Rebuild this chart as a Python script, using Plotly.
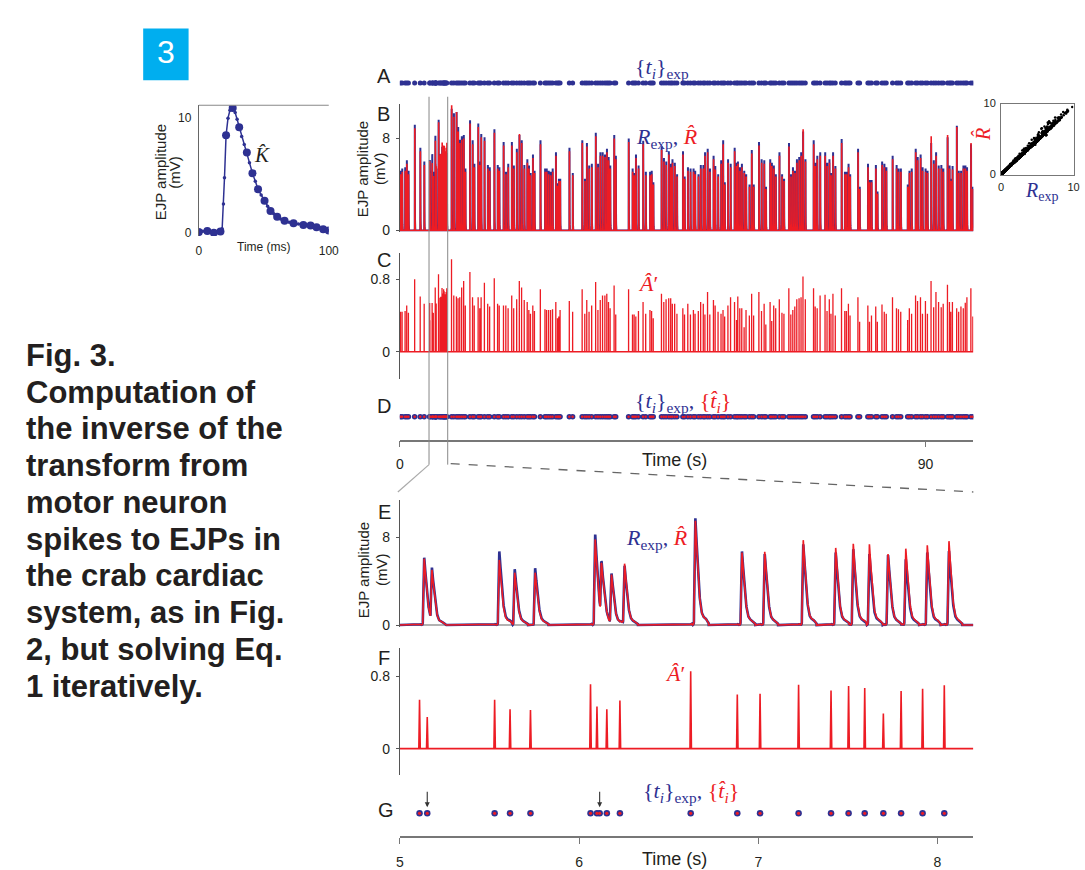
import numpy as np
import plotly.graph_objects as go

W, H = 1085, 870
BLUE = "#2E3192"
RED = "#ED1C24"
INK = "#231F20"
SANS = "Liberation Sans, Arial, Helvetica, sans-serif"
SERIF = "Liberation Serif, Times New Roman, serif"

# ---------------- data ----------------
# estimated EJP kernel K-hat (inset)
kernel_t_ms = [0, 3, 6.6, 9, 11.6, 14, 16.7, 18, 19, 19.8, 21, 22.5, 24, 26.1, 28, 29.5, 31.1, 33, 35, 37,
               39, 41.3, 43.5, 45.6, 48, 50.6, 53, 55.2, 57.7, 60.3, 63, 66, 69.5, 72.9, 76.7, 80.5, 83.3, 86,
               88.3, 90.6, 93.2, 95.7, 98, 100]
kernel_mv = [0.05, 0.12, 0.14, 0.06, 0.0, 0.05, 0.1, 0.35, 2.5, 4.8, 8.5, 10.0, 10.7, 10.9, 10.5, 9.9, 9.2, 8.4,
             7.7, 7.0, 6.1, 5.2, 4.5, 3.8, 3.3, 2.8, 2.3, 1.9, 1.65, 1.4, 1.2, 1.05, 0.92, 0.82, 0.75, 0.68,
             0.65, 0.62, 0.56, 0.48, 0.4, 0.31, 0.25, 0.2]
kernel_big = [1, 0, 1, 0, 1, 0, 1, 0, 0, 0, 1, 0, 0, 1, 0, 0, 1, 0, 0, 1,
              0, 1, 0, 1, 0, 1, 0, 1, 0, 1, 0, 1, 0, 1, 0, 1, 0, 1, 0, 1, 0, 1, 0, 1]

# spike times (s) of the whole record
spike_t = [
    0.12, 0.39, 0.90, 1.18, 1.47, 2.54, 3.49, 4.17, 5.110, 5.153,
    5.529, 5.615, 5.729, 6.064, 6.100, 6.115, 6.155, 6.228, 6.623, 6.883,
    7.010, 7.225, 7.406, 7.504, 7.594, 7.698, 7.797, 7.917, 8.038, 8.85,
    9.24, 9.69, 9.97, 10.26, 10.59, 10.93, 11.21, 12.00, 12.45, 12.74,
    13.41, 13.69, 13.92, 14.48, 15.05, 15.38, 16.17, 16.74, 17.02, 17.75,
    18.15, 18.54, 19.16, 19.50, 20.01, 20.46, 20.85, 21.30, 21.81, 22.09,
    22.37, 22.77, 23.05, 24.06, 24.85, 25.13, 25.47, 25.81, 26.15, 26.71,
    27.00, 27.22, 27.44, 29.02, 29.59, 31.22, 31.67, 32.01, 32.40, 32.85,
    33.53, 33.92, 34.32, 34.71, 35.11, 35.44, 35.73, 36.01, 36.69, 36.97,
    39.17, 39.84, 40.12, 40.41, 40.86, 41.65, 42.10, 42.83, 43.11, 43.39,
    44.80, 45.20, 45.59, 46.04, 46.38, 46.66, 47.06, 47.45, 48.46, 48.75,
    49.31, 49.76, 50.27, 50.55, 51.11, 51.51, 51.96, 52.24, 52.69, 53.08,
    53.70, 53.99, 54.49, 55.00, 55.34, 55.62, 56.18, 56.63, 57.31, 57.65,
    57.87, 58.21, 58.55, 58.95, 59.28, 59.85, 60.24, 60.58, 61.48, 61.93,
    62.38, 62.67, 63.40, 63.68, 64.02, 64.36, 64.98, 65.43, 65.77, 66.61,
    66.95, 67.29, 67.63, 67.97, 68.36, 68.70, 69.03, 69.43, 70.84, 71.12,
    71.46, 71.96, 72.81, 73.15, 73.54, 73.82, 74.16, 74.56, 75.63, 76.19,
    76.47, 76.81, 77.09, 78.44, 78.73, 80.14, 80.42, 80.76, 81.49, 81.77,
    82.56, 82.95, 83.29, 84.36, 85.04, 85.38, 85.77, 86.95, 87.24, 87.63,
    88.31, 88.65, 89.15, 89.49, 90.00, 90.34, 90.96, 91.41, 91.80, 92.25,
    92.70, 93.04, 93.77, 94.11, 94.34, 94.62, 95.35, 95.69, 96.08, 96.48,
    96.82, 97.10, 97.78, 98.12]

# measured EJP peak per spike (mV)
r_exp_peak = [
    5.2, 5.4, 5.5, 6.1, 5.2, 9.2, 7.2, 6.0, 6.13, 4.7,
    6.70, 5.07, 5.16, 8.24, 4.8, 0.0, 4.4, 5.3, 9.72, 6.70,
    6.46, 7.35, 6.6, 6.9, 6.46, 6.37, 6.0, 6.6, 6.75, 10.6,
    10.2, 10.3, 9.0, 7.9, 8.2, 8.3, 5.4, 9.6, 7.85, 5.8,
    9.3, 6.0, 8.4, 8.1, 5.7, 5.5, 8.8, 5.7, 5.5, 7.7,
    5.1, 5.8, 7.7, 5.65, 7.1, 8.3, 7.85, 5.7, 6.2, 5.65,
    5.0, 6.6, 5.2, 7.85, 5.4, 5.4, 5.2, 5.1, 5.4, 6.8,
    4.1, 4.5, 4.5, 7.2, 5.0, 7.85, 4.5, 7.6, 5.65, 5.8,
    8.5, 5.8, 6.8, 6.8, 6.6, 7.1, 6.4, 5.65, 8.3, 6.5,
    8.0, 5.4, 5.0, 6.6, 5.65, 7.8, 5.1, 5.1, 5.2, 4.2,
    7.3, 6.3, 6.0, 6.9, 5.8, 6.2, 5.9, 4.9, 6.9, 4.7,
    5.5, 5.4, 5.4, 5.2, 4.9, 5.7, 5.7, 6.8, 7.1, 5.4,
    6.5, 5.6, 4.9, 6.1, 7.85, 4.2, 6.2, 5.8, 7.2, 5.9,
    6.0, 5.5, 5.8, 5.2, 4.9, 4.0, 7.0, 4.0, 7.7, 6.2,
    6.1, 3.8, 6.2, 5.9, 5.65, 4.9, 6.8, 4.9, 4.5, 7.6,
    4.9, 5.5, 5.2, 6.2, 6.4, 6.8, 8.6, 6.2, 7.85, 5.9,
    6.5, 6.8, 6.8, 5.9, 6.2, 5.0, 6.8, 5.6, 7.95, 5.1,
    5.1, 5.8, 4.9, 7.1, 3.8, 5.8, 4.4, 4.4, 5.7, 3.4,
    6.0, 5.8, 5.5, 6.5, 5.7, 5.4, 5.4, 4.0, 5.2, 5.4,
    7.1, 6.4, 6.6, 5.5, 5.4, 5.2, 7.6, 6.1, 6.8, 5.65,
    5.7, 5.4, 8.1, 5.65, 4.5, 5.6, 9.1, 5.2, 5.2, 5.65,
    5.65, 5.5, 7.5, 3.8]

# predicted EJP peak per spike (mV)
r_hat_peak = [
    4.9, 5.1, 5.2, 5.8, 4.9, 8.9, 6.9, 5.7, 6.04, 4.5,
    5.93, 4.77, 4.77, 7.8, 4.7, 0.0, 4.3, 5.5, 9.5, 6.6,
    6.67, 7.73, 7.02, 7.4, 7.35, 6.46, 6.96, 7.26, 7.64, 10.9,
    9.9, 10.3, 8.6, 7.6, 7.9, 8.0, 5.1, 9.3, 7.5, 5.5,
    9.0, 5.7, 8.1, 7.8, 5.4, 5.2, 8.5, 5.4, 5.2, 7.4,
    4.9, 5.5, 7.4, 5.4, 6.8, 8.4, 7.6, 5.4, 5.9, 5.4,
    4.8, 6.3, 5.0, 7.5, 5.1, 5.1, 4.9, 4.8, 5.1, 6.5,
    3.9, 4.3, 4.3, 6.9, 4.8, 7.6, 4.3, 7.3, 5.4, 5.5,
    8.2, 5.5, 6.5, 6.5, 6.4, 6.8, 6.1, 5.4, 8.0, 6.2,
    7.7, 5.1, 4.8, 6.3, 5.4, 7.5, 4.8, 4.8, 4.9, 4.0,
    7.0, 6.0, 5.7, 6.6, 5.5, 5.9, 5.6, 4.7, 6.6, 4.5,
    5.2, 5.1, 5.1, 4.9, 4.7, 5.4, 5.4, 6.5, 6.8, 5.1,
    6.2, 5.3, 4.7, 5.8, 7.5, 4.0, 5.9, 5.5, 6.9, 5.6,
    5.8, 5.2, 5.5, 5.0, 4.7, 3.8, 6.7, 3.8, 7.4, 5.9,
    5.8, 3.6, 5.9, 5.6, 5.4, 4.7, 6.5, 4.7, 4.3, 7.3,
    4.7, 5.2, 5.0, 5.9, 6.1, 6.5, 8.8, 6.0, 7.5, 5.6,
    6.2, 6.5, 6.5, 5.6, 5.9, 4.8, 6.5, 5.4, 7.6, 4.9,
    4.9, 5.5, 4.7, 6.8, 3.6, 5.5, 4.2, 4.2, 5.4, 3.2,
    5.7, 5.5, 5.2, 6.2, 5.4, 5.1, 5.1, 3.8, 5.0, 5.1,
    6.8, 6.1, 6.3, 5.2, 5.1, 5.0, 8.2, 5.8, 6.5, 5.4,
    5.4, 5.1, 8.3, 5.4, 4.3, 5.3, 9.0, 5.0, 5.0, 5.4,
    5.4, 5.2, 7.6, 3.6]

# estimated spike amplitudes A-hat'
a_hat = [
    0.44, 0.44, 0.45, 0.51, 0.43, 0.80, 0.61, 0.53, 0.538, 0.348,
    0.538, 0.434, 0.427, 0.710, 0.463, 0.0, 0.434, 0.531, 0.854, 0.596,
    0.606, 0.703, 0.642, 0.689, 0.667, 0.387, 0.635, 0.660, 0.700, 1.02,
    0.62, 0.61, 0.59, 0.60, 0.71, 0.78, 0.51, 0.88, 0.60, 0.51,
    0.60, 0.48, 0.60, 0.76, 0.53, 0.50, 0.81, 0.53, 0.51, 0.51,
    0.51, 0.48, 0.62, 0.48, 0.58, 0.78, 0.71, 0.57, 0.55, 0.46,
    0.42, 0.51, 0.45, 0.69, 0.47, 0.46, 0.46, 0.46, 0.47, 0.55,
    0.37, 0.39, 0.46, 0.56, 0.44, 0.69, 0.42, 0.57, 0.44, 0.51,
    0.77, 0.46, 0.57, 0.62, 0.62, 0.64, 0.55, 0.48, 0.73, 0.41,
    0.69, 0.41, 0.41, 0.39, 0.45, 0.55, 0.42, 0.46, 0.45, 0.37,
    0.64, 0.55, 0.58, 0.59, 0.59, 0.53, 0.53, 0.42, 0.48, 0.41,
    0.53, 0.41, 0.46, 0.42, 0.45, 0.55, 0.53, 0.41, 0.66, 0.41,
    0.57, 0.51, 0.44, 0.42, 0.46, 0.39, 0.51, 0.60, 0.55, 0.35,
    0.61, 0.48, 0.48, 0.27, 0.46, 0.40, 0.64, 0.40, 0.66, 0.45,
    0.53, 0.30, 0.55, 0.34, 0.51, 0.48, 0.58, 0.43, 0.42, 0.70,
    0.41, 0.46, 0.50, 0.58, 0.59, 0.60, 0.83, 0.58, 0.70, 0.50,
    0.48, 0.62, 0.63, 0.45, 0.58, 0.42, 0.64, 0.40, 0.70, 0.45,
    0.45, 0.53, 0.40, 0.60, 0.33, 0.51, 0.33, 0.40, 0.50, 0.33,
    0.52, 0.44, 0.42, 0.60, 0.48, 0.47, 0.44, 0.35, 0.48, 0.42,
    0.62, 0.56, 0.60, 0.42, 0.56, 0.42, 0.78, 0.49, 0.66, 0.55,
    0.49, 0.53, 0.74, 0.55, 0.44, 0.55, 0.48, 0.44, 0.50, 0.48,
    0.54, 0.60, 0.70, 0.39]

arrow_t = [5.153, 6.115]

main_range = [0, 98.2]
zoom_range = [5.0, 8.2]
main_ticks = [0, 90]
zoom_ticks = [5, 6, 7, 8]
amp_ticks = [0, 8]
a_ticks = [0, 0.8]

caption_lines = ["Fig. 3.", "Computation of", "the inverse of the", "transform from",
                 "motor neuron", "spikes to EJPs in", "the crab cardiac",
                 "system, as in Fig.", "2, but solving Eq.", "1 iteratively."]

assert len(spike_t) == len(r_exp_peak) == len(r_hat_peak) == len(a_hat)
assert len(kernel_t_ms) == len(kernel_mv) == len(kernel_big)

# ---------------- helpers ----------------
def PX(px):
    return px / W

def PY(py):
    return 1 - py / H

MAIN_X = (401, 982)

def main_px(t):
    return MAIN_X[0] + (t - main_range[0]) / (main_range[1] - main_range[0]) * (MAIN_X[1] - MAIN_X[0])

def zoom_px(t):
    return MAIN_X[0] + (t - zoom_range[0]) / (zoom_range[1] - zoom_range[0]) * (MAIN_X[1] - MAIN_X[0])

Kt = np.asarray(kernel_t_ms) / 1000.0
Kv = np.asarray(kernel_mv)
Kn = Kv / Kv.max()
T = np.asarray(spike_t)

def ejp(grid, amps):
    y = np.zeros_like(grid)
    for ti, ai in zip(T, amps):
        if ai <= 0:
            continue
        i0, i1 = np.searchsorted(grid, [ti, ti + Kt[-1]])
        y[i0:i1] += ai * np.interp(grid[i0:i1] - ti, Kt, Kn)
    return y

def sticks(lo, hi, hw):
    xs, ys = [lo], [0.0]
    for ti, ai in zip(spike_t, a_hat):
        if lo < ti < hi:
            xs += [ti - hw, ti, ti + hw]
            ys += [0.0, ai, 0.0]
    xs.append(hi)
    ys.append(0.0)
    return xs, ys

g_main = np.arange(main_range[0], main_range[1], 0.002)
b_main = ejp(g_main, r_exp_peak)
r_main = ejp(g_main, r_hat_peak)
act = (b_main > 1e-4) | (r_main > 1e-4)
keep = act | np.roll(act, 1) | np.roll(act, -1)
keep[0] = keep[-1] = True

g_zoom = np.arange(zoom_range[0], zoom_range[1], 0.0005)
b_zoom = ejp(g_zoom, r_exp_peak)
r_zoom = ejp(g_zoom, r_hat_peak)

sel = b_main > 0.15
sc_x = b_main[sel][::3]
sc_y = r_main[sel][::3]

in_zoom = [i for i, t in enumerate(spike_t) if zoom_range[0] <= t <= zoom_range[1]]
zt = [spike_t[i] for i in in_zoom]

fig = go.Figure()

# A raster
fig.add_trace(go.Scatter(x=spike_t, y=[0] * len(spike_t), mode="markers", xaxis="x", yaxis="y",
                         marker=dict(size=5, color=BLUE), hoverinfo="skip"))
# B traces
fig.add_trace(go.Scatter(x=g_main[keep], y=b_main[keep], mode="lines", xaxis="x", yaxis="y2",
                         line=dict(color=BLUE, width=2.0, simplify=False), hoverinfo="skip"))
fig.add_trace(go.Scatter(x=g_main[keep], y=r_main[keep], mode="lines", xaxis="x", yaxis="y2",
                         line=dict(color=RED, width=1.6, simplify=False), hoverinfo="skip"))
# C sticks
cx, cy = sticks(main_range[0], main_range[1], 0.004)
fig.add_trace(go.Scatter(x=cx, y=cy, mode="lines", xaxis="x", yaxis="y3",
                         line=dict(color=RED, width=1.3, simplify=False), hoverinfo="skip"))
# D raster
fig.add_trace(go.Scatter(x=spike_t, y=[0] * len(spike_t), mode="markers", xaxis="x", yaxis="y4",
                         marker=dict(size=5.5, color=BLUE), hoverinfo="skip"))
fig.add_trace(go.Scatter(x=spike_t, y=[0] * len(spike_t), mode="markers", xaxis="x", yaxis="y4",
                         marker=dict(size=2.5, color=RED), hoverinfo="skip"))
# E traces
fig.add_trace(go.Scatter(x=g_zoom, y=b_zoom, mode="lines", xaxis="x2", yaxis="y5",
                         line=dict(color=BLUE, width=2.6), hoverinfo="skip"))
fig.add_trace(go.Scatter(x=g_zoom, y=r_zoom, mode="lines", xaxis="x2", yaxis="y5",
                         line=dict(color=RED, width=1.6), hoverinfo="skip"))
# F sticks
fx, fy = sticks(zoom_range[0], zoom_range[1], 0.004)
fig.add_trace(go.Scatter(x=fx, y=fy, mode="lines", xaxis="x2", yaxis="y6",
                         line=dict(color=RED, width=1.6), hoverinfo="skip"))
# G raster
fig.add_trace(go.Scatter(x=zt, y=[0] * len(zt), mode="markers", xaxis="x2", yaxis="y7",
                         marker=dict(size=6.5, color=BLUE), hoverinfo="skip"))
fig.add_trace(go.Scatter(x=zt, y=[0] * len(zt), mode="markers", xaxis="x2", yaxis="y7",
                         marker=dict(size=3.2, color=RED), hoverinfo="skip"))
# kernel inset
fig.add_trace(go.Scatter(x=kernel_t_ms, y=kernel_mv, mode="lines+markers", xaxis="x3", yaxis="y8",
                         line=dict(color=BLUE, width=1.5), marker=dict(size=3.5, color=BLUE),
                         hoverinfo="skip"))
bk_t = [t for t, b in zip(kernel_t_ms, kernel_big) if b]
bk_v = [v for v, b in zip(kernel_mv, kernel_big) if b]
fig.add_trace(go.Scatter(x=bk_t, y=bk_v, mode="markers", xaxis="x3", yaxis="y8",
                         marker=dict(size=8, color=BLUE), hoverinfo="skip"))
# scatter inset
fig.add_trace(go.Scatter(x=sc_x, y=sc_y, mode="markers", xaxis="x4", yaxis="y9",
                         marker=dict(size=2.5, color="black"), hoverinfo="skip"))

tf = dict(family=SANS, size=14, color=INK)
base = dict(showgrid=False, zeroline=False, tickfont=tf)
yline = dict(showline=True, linecolor="#555", linewidth=1, ticks="outside", ticklen=3,
             tickcolor="#555", tickwidth=1, ticklabelstandoff=3)

fig.update_layout(
    width=W, height=H, autosize=False, margin=dict(l=0, r=0, t=0, b=0, pad=0),
    paper_bgcolor="white", plot_bgcolor="white", showlegend=False,
    xaxis=dict(domain=[PX(MAIN_X[0]), PX(MAIN_X[1])], range=main_range, anchor="y4",
               showline=True, linecolor="#777", linewidth=1.5, ticks="outside", ticklen=6,
               tickcolor="#777", tickwidth=1.2, tickvals=main_ticks, ticklabelstandoff=5, **base),
    yaxis=dict(domain=[PY(94), PY(64)], range=[-1, 1], anchor="x", visible=False),
    yaxis2=dict(domain=[PY(231.2), PY(100)], range=[-0.1, 11.03], anchor="x", tickvals=amp_ticks,
                **yline, **base),
    yaxis3=dict(domain=[PY(382.7), PY(252.7)], range=[-0.306, 1.094], anchor="x", tickvals=a_ticks,
                **yline, **base),
    yaxis4=dict(domain=[PY(444.3), PY(397.7)], range=[-1, 1], anchor="x", visible=False),
    xaxis2=dict(domain=[PX(MAIN_X[0]), PX(MAIN_X[1])], range=zoom_range, anchor="y7",
                showline=True, linecolor="#777", linewidth=1.5, ticks="outside", ticklen=6,
                tickcolor="#777", tickwidth=1.2, tickvals=zoom_ticks, ticklabelstandoff=6, **base),
    yaxis5=dict(domain=[PY(636.6), PY(506.7)], range=[-0.2, 11.34], anchor="x2", tickvals=amp_ticks,
                **yline, **base),
    yaxis6=dict(domain=[PY(788.3), PY(658.3)], range=[-0.294, 1.105], anchor="x2", tickvals=a_ticks,
                **yline, **base),
    yaxis7=dict(domain=[PY(851), PY(803.6)], range=[-1, 1], anchor="x2", visible=False),
    xaxis3=dict(domain=[PX(197.3), PX(329)], range=[0, 100], anchor="y8", showline=False,
                ticks="", tickvals=[0, 100], ticklabelstandoff=6, showgrid=False, zeroline=False,
                tickfont=dict(family=SANS, size=12, color=INK)),
    yaxis8=dict(domain=[PY(235.7), PY(101.7)], range=[-0.29, 11.13], anchor="x3", showline=True,
                linecolor="#666", linewidth=1, ticks="", tickvals=[0, 10], ticklabelstandoff=4,
                showgrid=False, zeroline=False, tickfont=dict(family=SANS, size=12, color=INK)),
    xaxis4=dict(domain=[PX(1010), PX(1083.5)], range=[0, 10], anchor="y9", showline=True, mirror=True,
                linecolor="#777", linewidth=1, ticks="", tickvals=[0, 10], ticklabelstandoff=2,
                showgrid=False, zeroline=False, tickfont=dict(family=SANS, size=11, color=INK)),
    yaxis9=dict(domain=[PY(172.7), PY(100)], range=[0, 10], anchor="x4", showline=True, mirror=True,
                linecolor="#777", linewidth=1, ticks="", tickvals=[0, 10], ticklabelstandoff=2,
                showgrid=False, zeroline=False, tickfont=dict(family=SANS, size=11, color=INK)),
)

shapes = []
# figure number box
shapes.append(dict(type="rect", xref="paper", yref="paper", x0=PX(141), x1=PX(187), y0=PY(76), y1=PY(23),
                   fillcolor="#00AEEF", line=dict(width=0)))
# kernel inset top frame
shapes.append(dict(type="line", xref="paper", yref="paper", x0=PX(197.3), x1=PX(329), y0=PY(101.7),
                   y1=PY(101.7), line=dict(color="#888", width=1.2)))
# E baseline
shapes.append(dict(type="line", xref="x2", yref="y5", x0=zoom_range[0], x1=zoom_range[1], y0=0, y1=0,
                   line=dict(color="#999", width=1.5), layer="below"))
# zoom window markers
for zt_edge in zoom_range:
    shapes.append(dict(type="line", xref="x", yref="paper", x0=zt_edge, x1=zt_edge, y0=PY(470), y1=PY(93),
                       line=dict(color="#888", width=1)))
shapes.append(dict(type="line", xref="paper", yref="paper", x0=PX(main_px(zoom_range[0])), y0=PY(470),
                   x1=PX(zoom_px(zoom_range[0]) - 2), y1=PY(498), line=dict(color="#aaa", width=1.2)))
shapes.append(dict(type="line", xref="paper", yref="paper", x0=PX(main_px(zoom_range[1]) + 3), y0=PY(469),
                   x1=PX(zoom_px(zoom_range[1])), y1=PY(498), line=dict(color="#666", width=1.3, dash="dash")))

ann = []

def A(text, px, py, size, color=INK, family=SANS, angle=0, xanchor="center", yanchor="middle"):
    ann.append(dict(text=text, x=PX(px), y=PY(py), xref="paper", yref="paper", showarrow=False,
                    font=dict(size=size, color=color, family=family), textangle=angle,
                    xanchor=xanchor, yanchor=yanchor))

A("3", 164, 47, 32, color="white")
for k, line in enumerate(caption_lines):
    A("<b>" + line + "</b>", 20, 358 + 37.67 * k, 31, xanchor="left")

for letter, (lx, ly) in {"A": (385, 71.7), "B": (384, 110.5), "C": (385, 260.5), "D": (385, 410),
                         "E": (385, 518.5), "F": (384.5, 668.5), "G": (387, 824)}.items():
    A(letter, lx, ly, 20)

LBL_T = "{<i>t<sub>i</sub></i>}<sub>exp</sub>"
LBL_TT = LBL_T + ", <span style='color:#ED1C24'>{<i>t\u0302<sub>i</sub></i>}</span>"
LBL_R = "<i>R</i><sub>exp</sub>, <span style='color:#ED1C24'><i>R\u0302</i></span>"
LBL_A = "<i>A\u0302</i>\u2032"

A(LBL_T, 667, 64, 22, color=BLUE, family=SERIF)
A(LBL_R, 672, 135, 22, color=BLUE, family=SERIF)
A(LBL_A, 652, 284, 22, color=RED, family=SERIF)
A(LBL_TT, 688, 406, 22, color=BLUE, family=SERIF)
A(LBL_R, 662, 546, 22, color=BLUE, family=SERIF)
A(LBL_A, 680, 684, 22, color=RED, family=SERIF)
A(LBL_TT, 696, 805, 22, color=BLUE, family=SERIF)
A("<i>K\u0302</i>", 261.5, 153, 21, color=INK, family=SERIF)
A("<i>R</i><sub>exp</sub>", 1051, 190, 20, color=BLUE, family=SERIF)
A("<i>R\u0302</i>", 991, 132, 20, color=RED, family=SERIF, angle=-90)

A("Time (s)", 679, 465, 18)
A("Time (s)", 679, 862, 18, yanchor="top")
A("Time (ms)", 263, 247, 12)

for cx_, cy_ in [((158, 170.5), (172.5, 170.5)), ((364, 167), (381, 167)), ((364, 578), (382, 578))]:
    A("EJP amplitude", cx_[0], cx_[1], 15, angle=-90)
    A("(mV)", cy_[0], cy_[1], 15, angle=-90)

for t in arrow_t:
    ann.append(dict(text="", x=t, y=PY(821), xref="x2", yref="paper", showarrow=True, ax=0, ay=-17,
                    arrowhead=2, arrowsize=0.9, arrowwidth=1.1, arrowcolor="#333"))

fig.update_layout(shapes=shapes, annotations=ann)

# no page margin / scrollbars, so the 1085x870 figure sits exactly in the window
page_fix = ("document.documentElement.style.margin='0';document.documentElement.style.padding='0';"
            "document.body.style.margin='0';document.body.style.padding='0';"
            "document.documentElement.style.overflow='hidden';document.body.style.overflow='hidden';"
            "var gd=document.getElementById('{plot_id}');gd.style.overflow='hidden';")
fig.write_html("out.html", post_script=page_fix, config={"displayModeBar": False})
